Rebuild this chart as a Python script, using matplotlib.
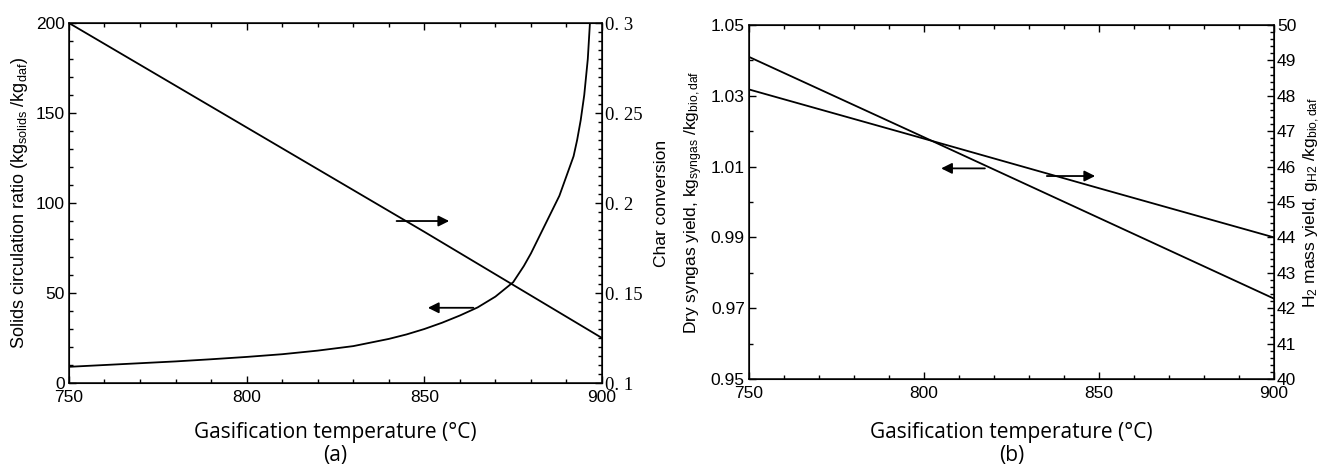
import matplotlib
matplotlib.use("Agg")
import matplotlib.pyplot as plt
from matplotlib.ticker import MultipleLocator, FuncFormatter

plt.rcParams["font.family"] = ["Liberation Sans", "DejaVu Sans"]
plt.rcParams["mathtext.fontset"] = "custom"
plt.rcParams["mathtext.rm"] = "Liberation Sans"
plt.rcParams["mathtext.it"] = "Liberation Sans:italic"

# (a) solids circulation ratio (left) and char conversion (right)
temp_scr = [750, 760, 770, 780, 790, 800, 810, 820, 830, 840, 845, 850,
            855, 860, 865, 870, 875, 878, 880, 882, 884, 886, 888, 890,
            892, 893, 894, 895, 896, 896.6]
scr = [9, 10, 11, 12, 13.2, 14.5, 16, 18, 20.5, 24.5, 27, 30,
       33.5, 37.5, 42, 48, 56, 65, 72, 80, 88, 96, 104, 115,
       126, 135, 146, 160, 180, 200]
temp_char = [750, 800, 850, 900]
char_conv = [0.300, 0.242, 0.184, 0.125]

# (b) dry syngas yield (left) and H2 mass yield (right)
temp_b = [750, 800, 850, 900]
syngas = [1.041, 1.0183, 0.9955, 0.9727]
h2_yield = [48.18, 46.79, 45.39, 44.0]

LW = 1.3
TICK_FS = 12.5
XLABEL_FONT = ["Open Sans", "DejaVu Sans"]


def style_axis(ax):
    for s in ax.spines.values():
        s.set_linewidth(1.1)
    ax.tick_params(which="both", direction="in", top=True, labelsize=TICK_FS,
                   width=1.0)
    ax.tick_params(which="major", length=5)
    ax.tick_params(which="minor", length=3)


def arrow(ax, x0, x1, y):
    ax.annotate("", xy=(x1, y), xytext=(x0, y),
                arrowprops=dict(arrowstyle="-|>", color="k", lw=LW,
                                mutation_scale=16, shrinkA=0, shrinkB=0))


fig = plt.figure(figsize=(13.31, 4.71), dpi=100)

# ---- panel (a)
ax1 = fig.add_axes([0.0518, 0.1868, 0.4005, 0.7643])
ax1.plot(temp_scr, scr, color="k", lw=LW)
ax1.set_xlim(750, 900)
ax1.set_ylim(0, 200)
ax1.xaxis.set_major_locator(MultipleLocator(50))
ax1.xaxis.set_minor_locator(MultipleLocator(10))
ax1.yaxis.set_major_locator(MultipleLocator(50))
ax1.yaxis.set_minor_locator(MultipleLocator(10))
style_axis(ax1)
ax1.tick_params(axis="x", pad=5)
ax1.tick_params(axis="y", pad=3)
ax1.set_ylabel(r"Solids circulation ratio (kg$_{\mathrm{solids}}$ /kg$_{\mathrm{daf}}$)",
               fontsize=13, labelpad=4)
ax1.set_xlabel("Gasification temperature (°C)\n(a)", family=XLABEL_FONT,
               fontsize=15, labelpad=12, linespacing=1.15)
arrow(ax1, 863.8, 851.0, 41.8)

ax1r = ax1.twinx()
ax1r.plot(temp_char, char_conv, color="k", lw=LW)
ax1r.set_ylim(0.1, 0.3)
ax1r.yaxis.set_major_locator(MultipleLocator(0.05))
ax1r.yaxis.set_minor_locator(MultipleLocator(0.005))
ax1r.yaxis.set_major_formatter(
    FuncFormatter(lambda v, _: f"{v:.2f}".rstrip("0").replace(".", ". ")))
ax1r.tick_params(which="both", direction="in", width=1.0, pad=2,
                 labelsize=13.5, labelfontfamily="Liberation Serif")
ax1r.tick_params(which="major", length=5)
ax1r.tick_params(which="minor", length=3)
ax1r.set_ylabel("Char conversion", fontsize=12.5, labelpad=8)
arrow(ax1r, 842.2, 857.0, 0.1 + 0.2 * 90 / 200)

# ---- panel (b)
ax2 = fig.add_axes([0.5627, 0.1953, 0.3945, 0.7516])
ax2.plot(temp_b, syngas, color="k", lw=LW)
ax2.set_xlim(750, 900)
ax2.set_ylim(0.95, 1.05)
ax2.xaxis.set_major_locator(MultipleLocator(50))
ax2.xaxis.set_minor_locator(MultipleLocator(10))
ax2.yaxis.set_minor_locator(MultipleLocator(0.01))
ax2.set_yticks([0.95, 0.97, 0.99, 1.01, 1.03, 1.05])
ax2.yaxis.set_major_formatter(FuncFormatter(lambda v, _: f"{v:.2f}"))
style_axis(ax2)
ax2.tick_params(axis="x", pad=5)
ax2.tick_params(axis="y", pad=3)
ax2.set_ylabel(r"Dry syngas yield, kg$_{\mathrm{syngas}}$ /kg$_{\mathrm{bio,daf}}$",
               fontsize=12.5, labelpad=4)
ax2.set_xlabel("Gasification temperature (°C)\n(b)", family=XLABEL_FONT,
               fontsize=15, labelpad=15, linespacing=1.15)
arrow(ax2, 817.4, 804.9, 1.0095)

ax2r = ax2.twinx()
ax2r.plot(temp_b, h2_yield, color="k", lw=LW)
ax2r.set_ylim(40, 50)
ax2r.yaxis.set_major_locator(MultipleLocator(1))
ax2r.yaxis.set_minor_locator(MultipleLocator(0.2))
ax2r.tick_params(which="both", direction="in", width=1.0, pad=2,
                 labelsize=TICK_FS)
ax2r.tick_params(which="major", length=5)
ax2r.tick_params(which="minor", length=3)
ax2r.set_ylabel(r"H$_2$ mass yield, g$_{\mathrm{H2}}$ /kg$_{\mathrm{bio,daf}}$",
                fontsize=12.5, labelpad=4)
arrow(ax2r, 835.1, 848.9, 40 + (1.00734 - 0.95) * 100)

fig.savefig("out.png", dpi=100)
